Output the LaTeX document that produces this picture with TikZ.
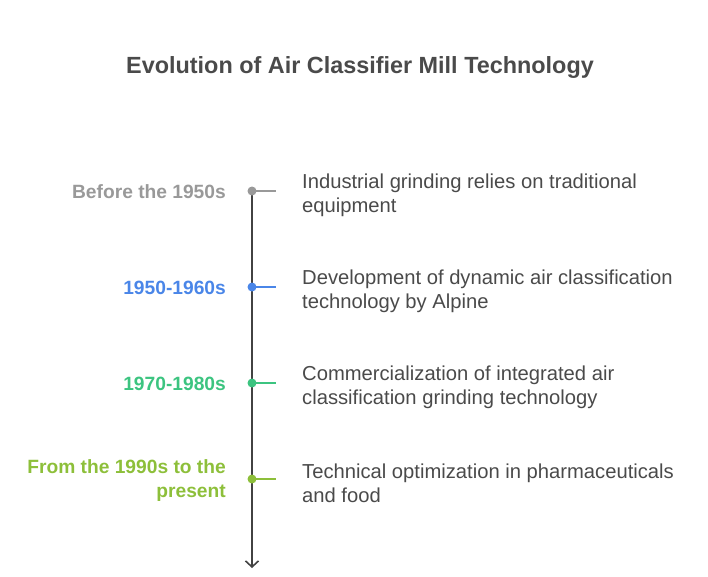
\documentclass[tikz,border=0pt]{standalone}
\usepackage{fontspec}
\setmainfont{Liberation Sans}
\usetikzlibrary{arrows.meta}
\definecolor{cgrey}{HTML}{999999}
\definecolor{cblue}{HTML}{4A86E8}
\definecolor{cgreen}{HTML}{3CC480}
\definecolor{clime}{HTML}{8DBF3A}
\definecolor{ctext}{HTML}{4A4A4A}
\definecolor{caxis}{HTML}{424242}
\tikzset{
  yearlbl/.style={font=\bfseries\fontsize{19.2}{24}\selectfont, anchor=east, align=right, inner sep=0pt},
  desclbl/.style={font=\fontsize{20.2}{24}\selectfont, text=ctext, anchor=west, align=left, inner sep=0pt},
  dotmark/.style={circle, inner sep=0pt, minimum size=9},
  tick/.style={line width=1.6},
}
\begin{document}
\begin{tikzpicture}[x=1pt,y=-1pt]
\useasboundingbox (0,0) rectangle (708,576);
\node[font=\bfseries\fontsize{23.4}{28}\selectfont, text=ctext] (title) at (360,67) {Evolution of Air Classifier Mill Technology};
\coordinate (top) at (252,191);
\coordinate (bot) at (252,568);
\draw[caxis, line width=2, -{Straight Barb[length=6,width=13,line width=1.6]}] (top) -- (bot);
% events
\foreach \n/\y/\c in {a/191/cgrey, b/287/cblue, c/383/cgreen, d/479/clime}{
  \node[dotmark, fill=\c] (dot\n) at (252,\y) {};
  \coordinate (end\n) at (276,\y);
  \draw[tick, \c] (dot\n.center) -- (end\n);
}
\node[yearlbl, text=cgrey] (ya) at (226,192) {Before the 1950s};
\node[yearlbl, text=cblue] (yb) at (226,288) {1950-1960s};
\node[yearlbl, text=cgreen] (yc) at (226,384) {1970-1980s};
\node[yearlbl, text=clime] (yd) at (226,481) {From the 1990s to the\\present};
\node[desclbl] (da) at (302,195) {Industrial grinding relies on traditional\\equipment};
\node[desclbl] (db) at (302,291) {Development of dynamic air classification\\technology by Alpine};
\node[desclbl] (dc) at (302,387) {Commercialization of integrated air\\classification grinding technology};
\node[desclbl] (dd) at (302,483) {Technical optimization in pharmaceuticals\\and food};
\end{tikzpicture}
\end{document}
